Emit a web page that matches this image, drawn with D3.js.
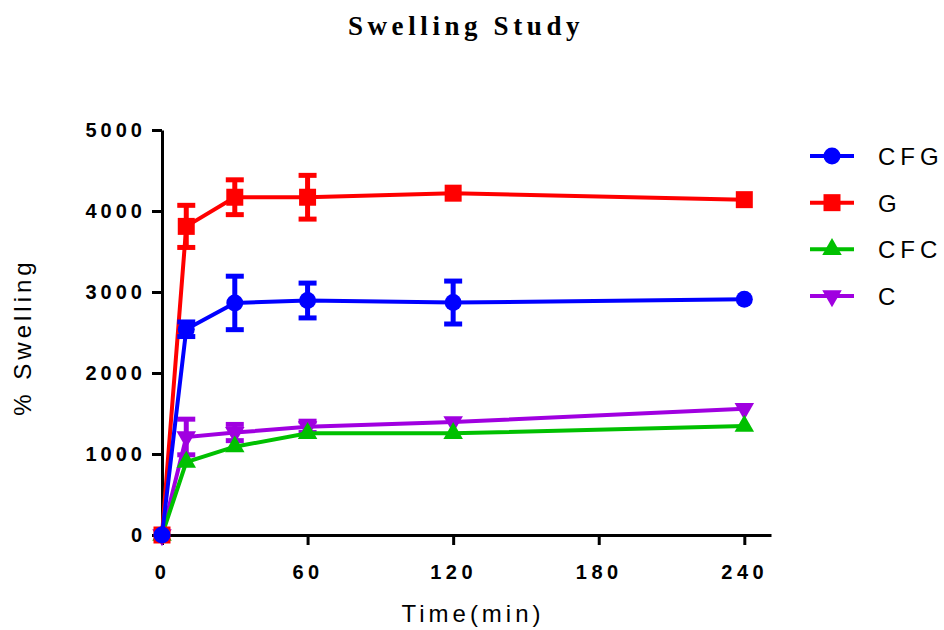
<!DOCTYPE html>
<html>
<head>
<meta charset="utf-8">
<script src="https://cdn.jsdelivr.net/npm/d3@7"></script>
<style>
  body { margin: 0; background: #fff; }
  svg { display: block; }
</style>
</head>
<body>
<svg id="chart" width="944" height="630"></svg>
<script>
// time points (min)
const times = [0, 10, 30, 60, 120, 240];

// mean % swelling
const cfgMean = [0, 2540, 2865, 2895, 2870, 2910];
const cfgErr  = [0, 90, 330, 215, 265, 0];
const gMean   = [0, 3810, 4170, 4170, 4220, 4140];
const gErr    = [0, 260, 215, 270, 0, 0];
const cfcMean = [0, 900, 1090, 1255, 1255, 1345];
const cfcErr  = [0, 0, 0, 0, 0, 0];
const cMean   = [0, 1210, 1265, 1335, 1395, 1560];
const cErr    = [0, 220, 100, 70, 0, 0];

const seriesNames = ["CFG", "G", "CFC", "C"];
const xTicks = [0, 60, 120, 180, 240];
const yTicks = [0, 1000, 2000, 3000, 4000, 5000];

const series = [
  { name: "CFG", mean: cfgMean, err: cfgErr, color: "#0000ff", shape: d3.symbolCircle, size: 227, rot: 0 },
  { name: "G",   mean: gMean,   err: gErr,   color: "#ff0000", shape: d3.symbolSquare, size: 289, rot: 0 },
  { name: "CFC", mean: cfcMean, err: cfcErr, color: "#00c000", shape: d3.symbolTriangle, size: 165, rot: 0 },
  { name: "C",   mean: cMean,   err: cErr,   color: "#a000e0", shape: d3.symbolTriangle, size: 165, rot: 180 }
];

const svg = d3.select("#chart");
const sans = "'Liberation Sans', Arial, sans-serif";

const x = d3.scaleLinear().domain([0, 251]).range([162, 771]);
const y = d3.scaleLinear().domain([0, 5000]).range([535, 130]);

// title
svg.append("text")
  .attr("x", 466).attr("y", 35)
  .attr("text-anchor", "middle")
  .style("font-family", "'Liberation Serif', 'Times New Roman', serif")
  .style("font-weight", "bold")
  .style("font-size", "27px")
  .style("letter-spacing", "4.6px")
  .text("Swelling Study");

// axes
const xAxis = d3.axisBottom(x).tickValues(xTicks).tickSize(10).tickSizeOuter(0).tickPadding(20);
const yAxis = d3.axisLeft(y).tickValues(yTicks).tickFormat(d3.format("d"))
  .tickSize(10).tickSizeOuter(0).tickPadding(6);

const gx = svg.append("g").attr("transform", "translate(0,535)").call(xAxis);
const gy = svg.append("g").attr("transform", "translate(162,0)").call(yAxis);

[gx, gy].forEach(g => {
  g.select(".domain").attr("stroke", "#000").attr("stroke-width", 3);
  g.selectAll(".tick line").attr("stroke", "#000").attr("stroke-width", 3);
  g.selectAll(".tick text")
    .attr("fill", "#000")
    .style("font-family", sans)
    .style("font-weight", "bold")
    .style("font-size", "20px");
});
gx.selectAll(".tick text").style("letter-spacing", "4.5px");
gy.selectAll(".tick text").style("letter-spacing", "4px");

// axis titles
svg.append("text")
  .attr("x", 473).attr("y", 622)
  .attr("text-anchor", "middle")
  .style("font-family", sans).style("font-size", "24px").style("letter-spacing", "4px")
  .text("Time(min)");

svg.append("text")
  .attr("transform", "translate(31,337) rotate(-90)")
  .attr("text-anchor", "middle")
  .style("font-family", sans).style("font-size", "24px").style("letter-spacing", "4px")
  .text("% Swelling");

// data, drawn in reverse so CFG ends up on top
const line = d3.line().x(d => x(d.t)).y(d => y(d.v));
const capHalf = 9;

series.slice().reverse().forEach(s => {
  const pts = times.map((t, i) => ({ t: t, v: s.mean[i], e: s.err[i] }));
  const g = svg.append("g");

  const withErr = pts.filter(d => d.e > 0);
  g.selectAll(".ebar").data(withErr).enter().append("line")
    .attr("x1", d => x(d.t)).attr("x2", d => x(d.t))
    .attr("y1", d => y(d.v - d.e)).attr("y2", d => y(d.v + d.e))
    .attr("stroke", s.color).attr("stroke-width", 5);
  g.selectAll(".capTop").data(withErr).enter().append("line")
    .attr("x1", d => x(d.t) - capHalf).attr("x2", d => x(d.t) + capHalf)
    .attr("y1", d => y(d.v + d.e)).attr("y2", d => y(d.v + d.e))
    .attr("stroke", s.color).attr("stroke-width", 5);
  g.selectAll(".capBot").data(withErr).enter().append("line")
    .attr("x1", d => x(d.t) - capHalf).attr("x2", d => x(d.t) + capHalf)
    .attr("y1", d => y(d.v - d.e)).attr("y2", d => y(d.v - d.e))
    .attr("stroke", s.color).attr("stroke-width", 5);

  g.append("path").datum(pts)
    .attr("d", line)
    .attr("fill", "none")
    .attr("stroke", s.color)
    .attr("stroke-width", 4);

  g.selectAll(".pt").data(pts).enter().append("path")
    .attr("d", d3.symbol().type(s.shape).size(s.size))
    .attr("transform", d => `translate(${x(d.t)},${y(d.v)}) rotate(${s.rot})`)
    .attr("fill", s.color);
});

// legend
const legendY = d3.scalePoint().domain(seriesNames).range([156, 296]);
series.forEach(s => {
  const ly = legendY(s.name);
  svg.append("line")
    .attr("x1", 810).attr("x2", 854).attr("y1", ly).attr("y2", ly)
    .attr("stroke", s.color).attr("stroke-width", 4);
  svg.append("path")
    .attr("d", d3.symbol().type(s.shape).size(s.size))
    .attr("transform", `translate(832,${ly}) rotate(${s.rot})`)
    .attr("fill", s.color);
  svg.append("text")
    .attr("x", 878).attr("y", ly + 9)
    .style("font-family", sans).style("font-size", "24px").style("letter-spacing", "5px")
    .text(s.name);
});
</script>
</body>
</html>
